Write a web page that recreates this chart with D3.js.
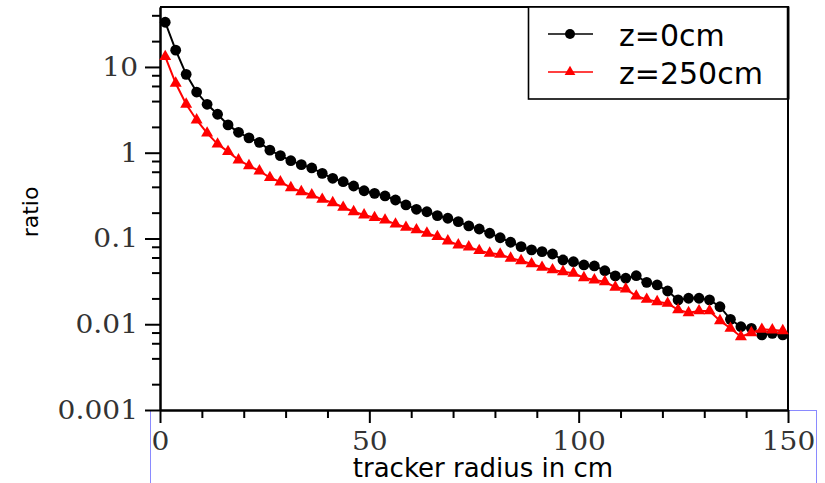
<!DOCTYPE html>
<html>
<head>
<meta charset="utf-8">
<script src="https://cdn.jsdelivr.net/npm/d3@7"></script>
<style>
  html, body { margin: 0; padding: 0; background: #fff; }
  svg { display: block; }
</style>
</head>
<body>
<svg id="chart" width="825" height="483"></svg>
<script>
// Tracker radius (cm) of each sample
const radius = [
  1.25, 3.75, 6.25, 8.75, 11.25, 13.75, 16.25, 18.75, 21.25, 23.75,
  26.25, 28.75, 31.25, 33.75, 36.25, 38.75, 41.25, 43.75, 46.25, 48.75,
  51.25, 53.75, 56.25, 58.75, 61.25, 63.75, 66.25, 68.75, 71.25, 73.75,
  76.25, 78.75, 81.25, 83.75, 86.25, 88.75, 91.25, 93.75, 96.25, 98.75,
  101.25, 103.75, 106.25, 108.75, 111.25, 113.75, 116.25, 118.75, 121.25, 123.75,
  126.25, 128.75, 131.25, 133.75, 136.25, 138.75, 141.25, 143.75, 146.25, 148.75
];

// Ratio at z = 0 cm
const ratioZ0 = [
  33.2, 15.7, 8.2, 5.1, 3.67, 2.81, 2.11, 1.73, 1.49, 1.32,
  1.07, 0.925, 0.807, 0.726, 0.664, 0.575, 0.503, 0.459, 0.409, 0.360,
  0.336, 0.313, 0.281, 0.246, 0.219, 0.205, 0.185, 0.172, 0.157, 0.140,
  0.129, 0.115, 0.102, 0.0904, 0.0802, 0.0735, 0.0702, 0.0659, 0.0561, 0.0536,
  0.0491, 0.0478, 0.0421, 0.0366, 0.0344, 0.0368, 0.0308, 0.0287, 0.0244, 0.0192,
  0.0201, 0.0201, 0.0192, 0.0160, 0.0114, 0.00936, 0.00897, 0.00750, 0.00783, 0.00750
];

// Ratio at z = 250 cm
const ratioZ250 = [
  13.2, 6.45, 3.67, 2.41, 1.69, 1.26, 1.03, 0.822, 0.706, 0.612,
  0.512, 0.456, 0.391, 0.351, 0.321, 0.286, 0.261, 0.231, 0.205, 0.188,
  0.175, 0.164, 0.147, 0.135, 0.126, 0.115, 0.105, 0.0935, 0.0839, 0.0796,
  0.0721, 0.0672, 0.0655, 0.0588, 0.0551, 0.0505, 0.0461, 0.0430, 0.0410, 0.0393,
  0.0349, 0.0328, 0.0313, 0.0270, 0.0258, 0.0213, 0.0195, 0.0183, 0.0175, 0.0147,
  0.0136, 0.0143, 0.0143, 0.0110, 0.00897, 0.00716, 0.00796, 0.00873, 0.00857, 0.00841
];

const seriesNames = ["z=0cm", "z=250cm"];

const xMajorTicks = [0, 50, 100, 150];
const xMinorTicks = [10, 20, 30, 40, 60, 70, 80, 90, 110, 120, 130, 140];
const yMajorTicks = [0.001, 0.01, 0.1, 1, 10];
const yMajorLabels = ["0.001", "0.01", "0.1", "1", "10"];
const yMinorTicks = [0.002, 0.004, 0.006, 0.008, 0.02, 0.04, 0.06, 0.08,
                     0.2, 0.4, 0.6, 0.8, 2, 4, 6, 8, 20, 40];

const svg = d3.select("#chart");
const plotLeft = 160, plotRight = 788, plotTop = 7, plotBottom = 410;

const x = d3.scaleLinear().domain([0, 150]).range([plotLeft, plotRight]);
const y = d3.scaleLog().domain([0.001, 50]).range([plotBottom, plotTop]);

// thin selection outline under the x axis
svg.append("rect")
  .attr("x", 150.5).attr("y", plotBottom + 0.5)
  .attr("width", 666).attr("height", 120)
  .attr("fill", "none").attr("stroke", "#8a8aff").attr("stroke-width", 1);

const tickFont = "'DejaVu Serif', serif";

function styleAxis(g) {
  g.select(".domain").attr("stroke", "#000").attr("stroke-width", 2);
  g.selectAll(".tick line").attr("stroke", "#000").attr("stroke-width", 2);
  g.selectAll(".tick text")
    .attr("fill", "#333")
    .style("font-family", tickFont)
    .style("font-size", "26px");
}

// y axis: minor then major ticks
svg.append("g")
  .attr("transform", `translate(${plotLeft},0)`)
  .call(d3.axisLeft(y).tickValues(yMinorTicks).tickSize(8).tickSizeOuter(0).tickFormat(""))
  .call(styleAxis);
svg.append("g")
  .attr("transform", `translate(${plotLeft},0)`)
  .call(d3.axisLeft(y).tickValues(yMajorTicks).tickSize(15).tickSizeOuter(0).tickPadding(7)
        .tickFormat((d, i) => yMajorLabels[i]))
  .call(styleAxis);

// x axis: minor then major ticks
svg.append("g")
  .attr("transform", `translate(0,${plotBottom})`)
  .call(d3.axisBottom(x).tickValues(xMinorTicks).tickSize(8).tickSizeOuter(0).tickFormat(""))
  .call(styleAxis);
svg.append("g")
  .attr("transform", `translate(0,${plotBottom})`)
  .call(d3.axisBottom(x).tickValues(xMajorTicks).tickSize(13).tickSizeOuter(0).tickPadding(9)
        .tickFormat(d3.format("d")))
  .call(styleAxis);

// stretch tick labels slightly wider, as the axis font is set
svg.selectAll(".tick text").each(function () {
  const t = d3.select(this);
  const w = this.getComputedTextLength();
  t.attr("textLength", w * 1.08).attr("lengthAdjust", "spacingAndGlyphs");
});

// top and right frame
svg.append("path")
  .attr("d", `M${plotLeft},${plotTop}H${plotRight}V${plotBottom}`)
  .attr("fill", "none").attr("stroke", "#000").attr("stroke-width", 2);

// series
const line = d3.line().x((d, i) => x(radius[i])).y(d => y(d));

const series = [
  { name: seriesNames[0], values: ratioZ0, color: "#000000", shape: "circle" },
  { name: seriesNames[1], values: ratioZ250, color: "#ff0000", shape: "triangle" }
];

const triangle = d3.symbol().type(d3.symbolTriangle).size(62);
const triangleSmall = d3.symbol().type(d3.symbolTriangle).size(50);

series.forEach(s => {
  const g = svg.append("g");
  g.append("path")
    .attr("d", line(s.values))
    .attr("fill", "none").attr("stroke", s.color).attr("stroke-width", 2);
  if (s.shape === "circle") {
    g.selectAll("circle").data(s.values).join("circle")
      .attr("cx", (d, i) => x(radius[i])).attr("cy", d => y(d))
      .attr("r", 5.4).attr("fill", s.color);
  } else {
    g.selectAll("path.marker").data(s.values).join("path")
      .attr("class", "marker")
      .attr("d", triangle)
      .attr("transform", (d, i) => `translate(${x(radius[i])},${y(d)})`)
      .attr("fill", s.color);
  }
});

// legend
const legend = svg.append("g");
legend.append("rect")
  .attr("x", 528.5).attr("y", plotTop).attr("width", 260).attr("height", 92)
  .attr("fill", "#fff").attr("stroke", "#000").attr("stroke-width", 1.6);
legend.append("line").attr("x1", plotRight).attr("x2", plotRight)
  .attr("y1", plotTop).attr("y2", plotTop + 92)
  .attr("stroke", "#000").attr("stroke-width", 2.5);

const legendRows = [34, 72];
series.forEach((s, i) => {
  const ly = legendRows[i];
  legend.append("line")
    .attr("x1", 548).attr("x2", 593).attr("y1", ly).attr("y2", ly)
    .attr("stroke", s.color).attr("stroke-width", 1.5);
  if (s.shape === "circle") {
    legend.append("circle").attr("cx", 570).attr("cy", ly).attr("r", 5).attr("fill", s.color);
  } else {
    legend.append("path").attr("d", triangleSmall)
      .attr("transform", `translate(570,${ly})`).attr("fill", s.color);
  }
  legend.append("text")
    .attr("x", 619).attr("y", ly + 11.5)
    .style("font-family", "'DejaVu Sans', sans-serif")
    .style("font-size", "30px")
    .attr("fill", "#000")
    .text(s.name);
});

// axis titles
svg.append("text")
  .attr("x", 483).attr("y", 477)
  .attr("text-anchor", "middle")
  .style("font-family", "'DejaVu Sans', sans-serif")
  .style("font-size", "26px")
  .attr("fill", "#000")
  .text("tracker radius in cm");

svg.append("text")
  .attr("transform", "translate(38,212) rotate(-90)")
  .attr("text-anchor", "middle")
  .style("font-family", "'DejaVu Sans', sans-serif")
  .style("font-size", "22px")
  .attr("fill", "#000")
  .text("ratio");
</script>
</body>
</html>
